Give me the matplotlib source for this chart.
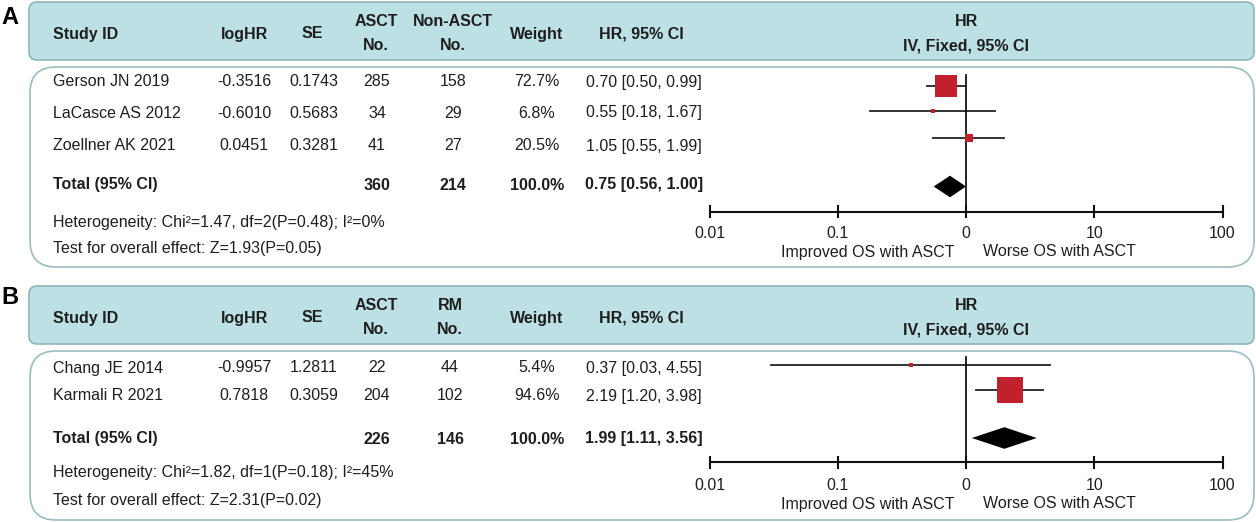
import numpy as np
import matplotlib.pyplot as plt
from matplotlib.patches import FancyBboxPatch

plt.rcParams['font.family'] = ['Liberation Sans', 'DejaVu Sans']

#%% data - panel A (ASCT vs Non-ASCT)
study_a = ['Gerson JN 2019', 'LaCasce AS 2012', 'Zoellner AK 2021']
loghr_a = ['-0.3516', '-0.6010', '0.0451']
se_a = ['0.1743', '0.5683', '0.3281']
n_asct_a = [285, 34, 41]
n_ctrl_a = [158, 29, 27]
weight_a = [72.7, 6.8, 20.5]
hr_a = [0.70, 0.55, 1.05]
lo_a = [0.50, 0.18, 0.55]
hi_a = [0.99, 1.67, 1.99]
total_a = [360, 214, 100.0, 0.75, 0.56, 1.00]
het_a = 'Heterogeneity: Chi²=1.47, df=2(P=0.48); I²=0%'
z_a = 'Test for overall effect: Z=1.93(P=0.05)'

#%% data - panel B (ASCT vs RM)
study_b = ['Chang JE 2014', 'Karmali R 2021']
loghr_b = ['-0.9957', '0.7818']
se_b = ['1.2811', '0.3059']
n_asct_b = [22, 204]
n_ctrl_b = [44, 102]
weight_b = [5.4, 94.6]
hr_b = [0.37, 2.19]
lo_b = [0.03, 1.20]
hi_b = [4.55, 3.98]
total_b = [226, 146, 100.0, 1.99, 1.11, 3.56]
het_b = 'Heterogeneity: Chi²=1.82, df=1(P=0.18); I²=45%'
z_b = 'Test for overall effect: Z=2.31(P=0.02)'

tick_vals = [0.01, 0.1, 1, 10, 100]
tick_labels = ['0.01', '0.1', '0', '10', '100']

#%%
W, H = 1256, 522
fig = plt.figure(figsize=(W/100, H/100), dpi=100)
ax = fig.add_axes([0, 0, 1, 1])
ax.set_xlim(0, W)
ax.set_ylim(H, 0)
ax.axis('off')

# forest axes: log scale, 0.01 .. 100 over pixel 709.5 .. 1222.5
axf = fig.add_axes([709.5/W, 0, (1222.5-709.5)/W, 1])
axf.set_xscale('log')
axf.set_xlim(0.01, 100)
axf.set_ylim(H, 0)
axf.axis('off')
axf.patch.set_alpha(0)

header_fc = '#bde0e5'
header_ec = '#8db5ba'
body_ec = '#9bbcc0'
red = '#c1202d'
txt = '#1e1e1e'
fs = 11.5
x0 = 53


def rbox(xa, ya, xb, yb, r, fc, ec):
    p = FancyBboxPatch((xa, ya), xb-xa, yb-ya,
                       boxstyle='round,pad=0,rounding_size=%g' % r,
                       fc=fc, ec=ec, lw=1.2, zorder=0)
    ax.add_patch(p)


def draw_panel(label, lay, ctrl, study, loghr, se, n1, n2, wt, hr, lo, hi, tot, het, zt):
    c2 = lay['c2']
    ax.text(10, lay['label'], label, fontsize=17, fontweight='bold', ha='center', va='center', color='black')
    rbox(29, lay['head'][0], 1254, lay['head'][1], 8, header_fc, header_ec)
    rbox(30, lay['body'][0], 1254, lay['body'][1], 26, 'white', body_ec)

    # header
    hc = (lay['head'][0] + lay['head'][1]) / 2
    y1, y2, ys = hc - 10, hc + 15, hc + 3
    kw = dict(fontsize=fs, fontweight='bold', va='center', color=txt)
    ax.text(x0, ys, 'Study ID', ha='left', **kw)
    ax.text(244, ys, 'logHR', ha='center', **kw)
    ax.text(312, ys, 'SE', ha='center', **kw)
    ax.text(376, y1, 'ASCT', ha='center', **kw)
    ax.text(376, y2, 'No.', ha='center', **kw)
    ax.text(c2, y1, ctrl, ha='center', **kw)
    ax.text(c2, y2, 'No.', ha='center', **kw)
    ax.text(537, ys, 'Weight', ha='center', **kw)
    ax.text(641, ys, 'HR, 95% CI', ha='center', **kw)
    ax.text(966, y1, 'HR', ha='center', **kw)
    ax.text(966, y2, 'IV, Fixed, 95% CI', ha='center', **kw)

    # study rows
    kw = dict(fontsize=fs, va='center', color=txt)
    for i, y in enumerate(lay['rows']):
        ax.text(x0, y, study[i], ha='left', **kw)
        ax.text(244, y, loghr[i], ha='center', **kw)
        ax.text(314, y, se[i], ha='center', **kw)
        ax.text(377, y, str(n1[i]), ha='center', **kw)
        ax.text(c2, y, str(n2[i]), ha='center', **kw)
        ax.text(537, y, '%.1f%%' % wt[i], ha='center', **kw)
        ax.text(644, y, '%.2f [%.2f, %.2f]' % (hr[i], lo[i], hi[i]), ha='center', **kw)

    # total
    y = lay['total']
    kwb = dict(fontsize=fs, fontweight='bold', va='center', color=txt)
    ax.text(x0, y, 'Total (95% CI)', ha='left', **kwb)
    ax.text(377, y, str(tot[0]), ha='center', **kwb)
    ax.text(c2, y, str(tot[1]), ha='center', **kwb)
    ax.text(537, y, '%.1f%%' % tot[2], ha='center', **kwb)
    ax.text(644, y, '%.2f [%.2f, %.2f]' % (tot[3], tot[4], tot[5]), ha='center', **kwb)

    ax.text(x0, lay['het'], het, ha='left', **kw)
    ax.text(x0, lay['test'], zt, ha='left', **kw)

    # forest
    for i, y in enumerate(lay['frows']):
        axf.plot([lo[i], hi[i]], [y, y], color='#222222', lw=1.3, clip_on=False)
        side = max(5, 0.89 * wt[i] ** 0.75)
        axf.plot(hr[i], y, marker='s', ms=side*0.72, mfc=red, mec=red, mew=0, clip_on=False, zorder=3)
    yd = lay['diam']
    axf.fill([tot[4], tot[3], tot[5], tot[3]], [yd, yd-10.8, yd, yd+10.8], color='black', lw=0, zorder=3, clip_on=False)
    ya = lay['axis']
    axf.plot([1, 1], [lay['vtop'], ya], color='black', lw=1.2, clip_on=False, zorder=2)
    axf.plot([0.01, 100], [ya, ya], color='#111111', lw=1.5, solid_capstyle='butt', clip_on=False)
    for t, s in zip(tick_vals, tick_labels):
        axf.plot([t, t], [ya-5.5, ya+5.5], color='#111111', lw=1.5, clip_on=False)
        axf.text(t, lay['tlab'], s, ha='center', va='center', fontsize=fs, color=txt)
    ax.text(868, lay['imp'], 'Improved OS with ASCT', ha='center', **kw)
    ax.text(1059, lay['imp'], 'Worse OS with ASCT', ha='center', **kw)


lay_a = dict(label=18, head=(2, 60), body=(67, 267), c2=453,
             rows=[82, 113, 146], total=185, het=222, test=249,
             frows=[86, 111, 137.5], diam=186.5, vtop=75, axis=211.5, tlab=233, imp=252)
lay_b = dict(label=298, head=(286, 344), body=(351, 520), c2=450,
             rows=[368, 396], total=439, het=473, test=500,
             frows=[364.5, 390], diam=438, vtop=357, axis=462, tlab=485, imp=504)

draw_panel('A', lay_a, 'Non-ASCT', study_a, loghr_a, se_a, n_asct_a, n_ctrl_a, weight_a,
           hr_a, lo_a, hi_a, total_a, het_a, z_a)
draw_panel('B', lay_b, 'RM', study_b, loghr_b, se_b, n_asct_b, n_ctrl_b, weight_b,
           hr_b, lo_b, hi_b, total_b, het_b, z_b)

fig.savefig('out.png', dpi=100)
